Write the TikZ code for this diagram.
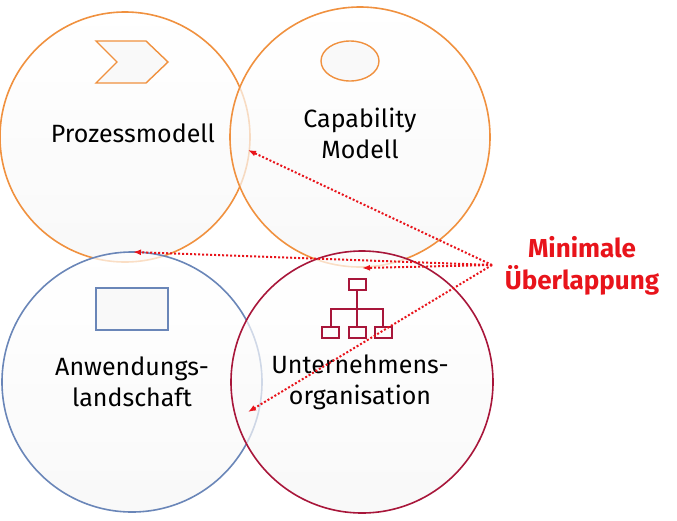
\documentclass[tikz,border=0pt]{standalone}
\usepackage{fontspec}
\setmainfont{Fira Sans}
\usetikzlibrary{arrows.meta}
\definecolor{orangeline}{HTML}{F0913F}
\definecolor{blueline}{HTML}{6A86B8}
\definecolor{redline}{HTML}{A8163A}
\definecolor{accent}{HTML}{E8141B}
\tikzset{
  area/.style={line width=1.6pt, top color=white, bottom color=gray!7, fill opacity=0.7},
  icon/.style={line width=1.4pt, fill=gray!5},
  label/.style={font=\fontsize{25}{31}\selectfont, align=center, text=black},
  hint/.style={draw=accent, dotted, line width=2pt, -{Latex[length=8pt]}}
}
\begin{document}
\begin{tikzpicture}[x=1pt,y=-1pt]
	\useasboundingbox (0,0) rectangle (677,520);

	% circles
	\draw[area, draw=orangeline] (125,137) circle (125);
	\draw[area, draw=orangeline] (360,137) circle (130);
	\draw[area, draw=blueline]   (132,382) circle (130);
	\draw[area, draw=redline]    (362,382) circle (131);

	% icons
	\draw[icon, draw=orangeline] (96,41) -- (146,41) -- (168,62) -- (146,83) -- (96,83) -- (117,62) -- cycle;
	\draw[icon, draw=orangeline] (350,61) ellipse (29 and 20);
	\draw[icon, draw=blueline] (96,288) rectangle (168,330);
	\begin{scope}[draw=redline, line width=1.4pt]
		\draw (349,279) rectangle (366,290);
		\draw (357,290) -- (357,327);
		\draw (331,327) -- (331,309) -- (383,309) -- (383,327);
		\foreach \x in {322,349,375}
			\draw (\x,327) rectangle ++(17,11);
	\end{scope}

	% labels
	\node[label] (prozess) at (133,133) {Prozessmodell};
	\node[label] (capability) at (360,133) {Capability\\Modell};
	\node[label] (anwendung) at (132,382) {Anwendungs-\\landschaft};
	\node[label] (org) at (360,382) {Unternehmens-\\organisation};
	\node[font=\bfseries\fontsize{26}{32}\selectfont, text=accent, align=center] (minimal) at (582,266) {Minimale\\Überlappung};

	% pointers
	\coordinate (src) at (492,265);
	\coordinate (ovtop) at (248,150);
	\coordinate (ovleft) at (133,252);
	\coordinate (ovmid) at (362,268);
	\coordinate (ovbottom) at (248,412);
	\foreach \t in {ovtop,ovleft,ovmid,ovbottom}
		\draw[hint] (src) -- (\t);

\end{tikzpicture}
\end{document}
